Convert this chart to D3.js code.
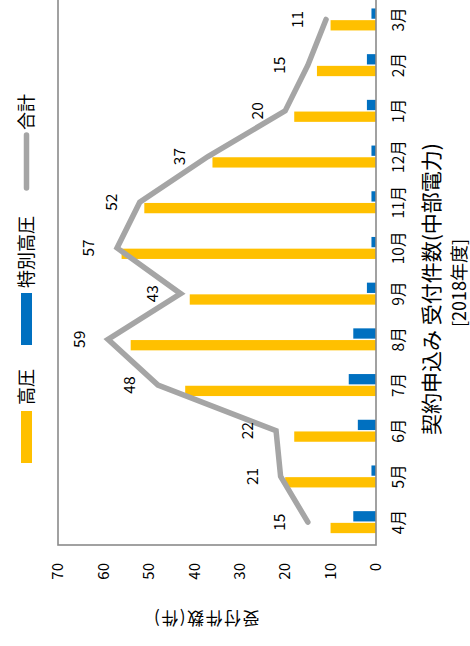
<!DOCTYPE html>
<html><head><meta charset="utf-8">
<script src="https://cdn.jsdelivr.net/npm/d3@7/dist/d3.min.js"></script>
<style>body{margin:0;background:#fff}svg{display:block}text{font-family:"Noto Sans CJK JP","Noto Sans",sans-serif;fill:#000}</style>
</head><body>
<script>
const categories = ["4月","5月","6月","7月","8月","9月","10月","11月","12月","1月","2月","3月"];
const seriesNames = ["高圧","特別高圧"];
const highVoltage = [10,20,18,42,54,41,56,51,36,18,13,10];
const extraHigh   = [5,1,4,6,5,2,1,1,1,2,2,1];
const totals      = [15,21,22,48,59,43,57,52,37,20,15,11];
const valueTicks  = [0,10,20,30,40,50,60,70];
const lineName = "合計";
const titleLine1 = "契約申込み 受付件数(中部電力)";
const titleLine2 = "[2018年度]";
const valueTitle = "受付件数(件)";

const W = 470, H = 646;
const colors = {"高圧":"#FFC000","特別高圧":"#0070C0"};
const lineColor = "#A5A5A5";

const svg = d3.select("body").append("svg").attr("width", W).attr("height", H);
// draw in an unrotated frame (646 wide x 470 tall), then rotate -90deg
const g = svg.append("g").attr("transform", `translate(0,${H}) rotate(-90)`);

const plotL = 101, step = 45.7, plotR = plotL + step * categories.length;
const plotT = 58, plotB = 376;

const x0 = d3.scaleBand().domain(categories).range([plotL, plotR]).padding(0);
const x1 = d3.scaleBand().domain(seriesNames).range([-11, 11]).paddingInner(0.12);
const y = d3.scaleLinear().domain([0, 70]).range([plotB, plotT]);

// bars
const data = categories.map((c, i) => ({c, vals: [highVoltage[i], extraHigh[i]]}));
const cg = g.selectAll("g.cat").data(data).join("g")
  .attr("transform", d => `translate(${x0(d.c) + x0.bandwidth()/2},0)`);
cg.selectAll("rect").data(d => seriesNames.map((s, j) => ({s, v: d.vals[j]}))).join("rect")
  .attr("x", d => x1(d.s)).attr("width", x1.bandwidth())
  .attr("y", d => y(d.v)).attr("height", d => y(0) - y(d.v))
  .attr("fill", d => colors[d.s]);

// plot border
g.append("rect").attr("x", plotL).attr("y", plotT).attr("width", plotR - plotL).attr("height", plotB - plotT)
  .attr("fill", "none").attr("stroke", "#8a8a8a").attr("stroke-width", 1.6);

// line
const line = d3.line().x((d, i) => x0(categories[i]) + x0.bandwidth()/2).y(d => y(d));
g.append("path").datum(totals).attr("d", line).attr("fill", "none")
  .attr("stroke", lineColor).attr("stroke-width", 5.5).attr("stroke-linecap", "round").attr("stroke-linejoin", "miter");

// data labels
g.selectAll("text.lbl").data(totals).join("text").attr("class", "lbl")
  .attr("x", (d, i) => x0(categories[i]) + x0.bandwidth()/2)
  .attr("y", d => y(d) - 28).attr("dy", "0.35em")
  .attr("text-anchor", "middle").attr("font-size", 15.5).text(d => d);

// axes
const ya = g.append("g").attr("transform", `translate(${plotL},0)`)
  .call(d3.axisLeft(y).tickValues(valueTicks).tickSize(0).tickPadding(18));
ya.select(".domain").remove();
ya.selectAll("text").attr("font-size", 15).style("font-family", '"Noto Sans CJK JP",sans-serif');

const xa = g.append("g").attr("transform", `translate(0,${plotB})`)
  .call(d3.axisBottom(x0).tickSize(0).tickPadding(17));
xa.select(".domain").remove();
xa.selectAll("text").attr("font-size", 15.5).style("font-family", '"Noto Sans CJK JP",sans-serif');

// value axis title
g.append("text").attr("transform", `translate(28,206) rotate(-90)`).attr("text-anchor", "middle")
  .attr("dy", "0.35em").attr("font-size", 17).attr("letter-spacing", 1.5).text(valueTitle);

// chart title
g.append("text").attr("x", 357).attr("y", 432).attr("dy", "0.35em").attr("text-anchor", "middle")
  .attr("font-size", 21).text(titleLine1);
g.append("text").attr("x", 363).attr("y", 460).attr("dy", "0.35em").attr("text-anchor", "middle")
  .attr("font-size", 18).text(titleLine2);

// legend
const leg = g.append("g");
leg.append("rect").attr("x", 183).attr("y", 21).attr("width", 52).attr("height", 11).attr("fill", colors["高圧"]);
leg.append("text").attr("x", 241).attr("y", 26.5).attr("dy", "0.35em").attr("font-size", 18).text(seriesNames[0]);
leg.append("rect").attr("x", 301).attr("y", 21).attr("width", 52).attr("height", 11).attr("fill", colors["特別高圧"]);
leg.append("text").attr("x", 358).attr("y", 26.5).attr("dy", "0.35em").attr("font-size", 18).text(seriesNames[1]);
leg.append("line").attr("x1", 458).attr("x2", 511).attr("y1", 26.5).attr("y2", 26.5)
  .attr("stroke", lineColor).attr("stroke-width", 5.5).attr("stroke-linecap", "round");
leg.append("text").attr("x", 516).attr("y", 26.5).attr("dy", "0.35em").attr("font-size", 18).text(lineName);
</script>
</body></html>
